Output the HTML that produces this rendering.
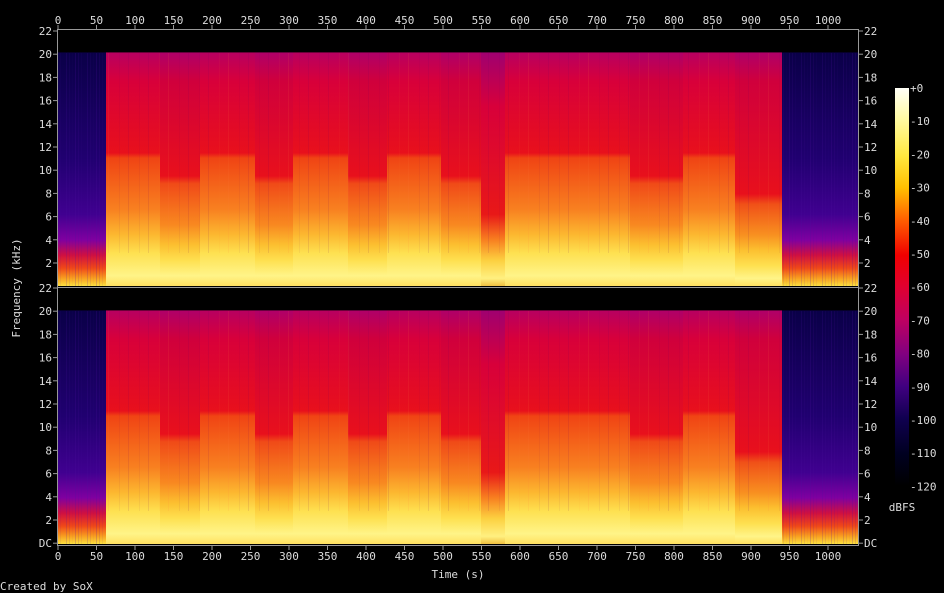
<!DOCTYPE html>
<html><head><meta charset="utf-8"><style>
html,body{margin:0;padding:0;background:#000;width:944px;height:593px;overflow:hidden}
svg{display:block}
text{font-family:"DejaVu Sans Mono","Liberation Mono",monospace;font-size:11px;fill:#ddd}
</style></head><body>
<svg id="s" width="944" height="593" xmlns="http://www.w3.org/2000/svg">
<defs>
<linearGradient id="br" x1="0" y1="0" x2="0" y2="1">
<stop offset="0" stop-color="#000"/><stop offset="0.085" stop-color="#000"/>
<stop offset="0.09" stop-color="#b80060"/><stop offset="0.2" stop-color="#d8003a"/>
<stop offset="0.48" stop-color="#e8101c"/><stop offset="0.5" stop-color="#f04414"/>
<stop offset="0.7" stop-color="#f88020"/><stop offset="0.8" stop-color="#fcb830"/>
<stop offset="0.87" stop-color="#fee050"/><stop offset="0.96" stop-color="#fff488"/>
<stop offset="1" stop-color="#ffe060"/></linearGradient>
<linearGradient id="dm" x1="0" y1="0" x2="0" y2="1">
<stop offset="0" stop-color="#000"/><stop offset="0.085" stop-color="#000"/>
<stop offset="0.09" stop-color="#b00068"/><stop offset="0.2" stop-color="#d0003c"/>
<stop offset="0.57" stop-color="#e8101c"/><stop offset="0.6" stop-color="#f04a18"/>
<stop offset="0.76" stop-color="#f88820"/><stop offset="0.84" stop-color="#fcc030"/>
<stop offset="0.9" stop-color="#fee050"/><stop offset="0.96" stop-color="#fff488"/>
<stop offset="1" stop-color="#ffe060"/></linearGradient>
<linearGradient id="lo" x1="0" y1="0" x2="0" y2="1">
<stop offset="0" stop-color="#000"/><stop offset="0.085" stop-color="#000"/>
<stop offset="0.09" stop-color="#b00068"/><stop offset="0.2" stop-color="#d0003c"/>
<stop offset="0.64" stop-color="#e8101c"/><stop offset="0.68" stop-color="#f05018"/>
<stop offset="0.8" stop-color="#f89020"/><stop offset="0.86" stop-color="#fcc030"/>
<stop offset="0.92" stop-color="#fee050"/><stop offset="0.97" stop-color="#fff488"/>
<stop offset="1" stop-color="#ffe060"/></linearGradient>
<linearGradient id="gp" x1="0" y1="0" x2="0" y2="1">
<stop offset="0" stop-color="#000"/><stop offset="0.085" stop-color="#000"/>
<stop offset="0.09" stop-color="#a00070"/><stop offset="0.3" stop-color="#d8003a"/>
<stop offset="0.72" stop-color="#e81818"/><stop offset="0.82" stop-color="#f88020"/>
<stop offset="0.9" stop-color="#fcd040"/><stop offset="0.97" stop-color="#fff080"/>
<stop offset="1" stop-color="#f0c040"/></linearGradient>
<linearGradient id="ed" x1="0" y1="0" x2="0" y2="1">
<stop offset="0" stop-color="#000"/><stop offset="0.085" stop-color="#000"/>
<stop offset="0.09" stop-color="#0a0048"/><stop offset="0.5" stop-color="#200070"/>
<stop offset="0.72" stop-color="#400090"/><stop offset="0.82" stop-color="#8000a0"/>
<stop offset="0.88" stop-color="#d01040"/><stop offset="0.93" stop-color="#f04818"/>
<stop offset="0.97" stop-color="#f8a020"/><stop offset="1" stop-color="#fce040"/></linearGradient>
<linearGradient id="cb" x1="0" y1="1" x2="0" y2="0">
<stop offset="0" stop-color="#000"/><stop offset="0.08" stop-color="#000020"/>
<stop offset="0.17" stop-color="#100050"/><stop offset="0.25" stop-color="#400080"/>
<stop offset="0.33" stop-color="#800080"/><stop offset="0.42" stop-color="#c00060"/>
<stop offset="0.5" stop-color="#e00030"/><stop offset="0.58" stop-color="#f00000"/>
<stop offset="0.67" stop-color="#ff6000"/><stop offset="0.75" stop-color="#ffc000"/>
<stop offset="0.83" stop-color="#ffe840"/><stop offset="0.92" stop-color="#fffaa0"/>
<stop offset="1" stop-color="#fffff8"/></linearGradient>
</defs>
<g id="g"></g>
</svg>
<script>
var g=document.getElementById('g'),h='';
var segs=[[58,106,'ed'],[106,160,'br'],[160,200,'dm'],[200,255,'br'],[255,293,'dm'],[293,348,'br'],[348,387,'dm'],[387,441,'br'],[441,481,'dm'],[481,505,'gp'],[505,630,'br'],[630,683,'dm'],[683,735,'br'],[735,782,'lo'],[782,858,'ed']];
[30,288].forEach(function(y0){
 segs.forEach(function(s){h+='<rect x="'+s[0]+'" y="'+y0+'" width="'+(s[1]-s[0])+'" height="256" fill="url(#'+s[2]+')"/>';});
 for(var x=108;x<780;x+=7+((x*13)%5)){var o=((x*7)%10)/60;h+='<rect x="'+x+'" y="'+(y0+23)+'" width="1" height="200" fill="'+(x%3?'#600060':'#ff8040')+'" opacity="'+o+'"/>';}
 for(var x=60;x<858;x+=3){if(x>=106&&x<782)continue;var o=((x*11)%7)/30;h+='<rect x="'+x+'" y="'+(y0+23)+'" width="1" height="233" fill="#5010a0" opacity="'+o+'"/>';}
});
h+='<rect x="57.5" y="29.5" width="801" height="516" fill="none" stroke="#999"/>';
h+='<line x1="58" y1="287.5" x2="858" y2="287.5" stroke="#999"/>';
for(var t=0;t<=1000;t+=50){var x=58+t*0.77;
 h+='<line x1="'+x+'" y1="25" x2="'+x+'" y2="29" stroke="#999"/><line x1="'+x+'" y1="546" x2="'+x+'" y2="550" stroke="#999"/>';
 h+='<text x="'+x+'" y="24" text-anchor="middle">'+t+'</text><text x="'+x+'" y="560" text-anchor="middle">'+t+'</text>';}
[31,288].forEach(function(y0){for(var k=0;k<=11;k++){var y=y0+(11-k)*23.2;var lab=k==0?(y0==31?'':'DC'):(2*k);
 if(y0==31&&k==0)continue;
 h+='<line x1="53" y1="'+y+'" x2="57" y2="'+y+'" stroke="#999"/><line x1="859" y1="'+y+'" x2="863" y2="'+y+'" stroke="#999"/>';
 h+='<text x="52" y="'+(y+4)+'" text-anchor="end">'+lab+'</text><text x="864" y="'+(y+4)+'">'+lab+'</text>';}});
h+='<rect x="895" y="88" width="14" height="398" fill="url(#cb)"/>';
for(var i=0;i<=12;i++){var y=88+i*33.2;h+='<text x="910" y="'+(y+4)+'">'+(i==0?'+0':'-'+i*10)+'</text>';}
h+='<text x="902" y="511" text-anchor="middle">dBFS</text>';
h+='<text x="458" y="578" text-anchor="middle">Time (s)</text>';
h+='<text transform="translate(20,288) rotate(-90)" text-anchor="middle">Frequency (kHz)</text>';
h+='<text x="0" y="590">Created by SoX</text>';
g.innerHTML=h;
</script>
</body></html>
